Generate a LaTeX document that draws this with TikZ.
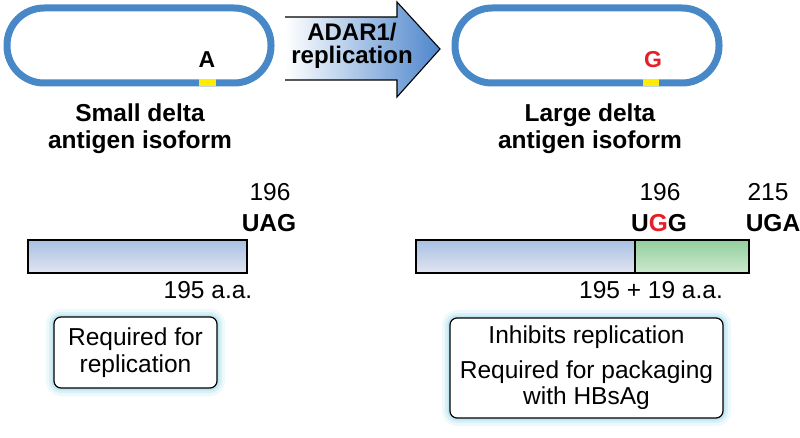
\documentclass[tikz,border=0pt]{standalone}
\usepackage{fontspec}
\setmainfont{Liberation Sans}
\usetikzlibrary{positioning}
\definecolor{ringblue}{RGB}{72,136,199}
\definecolor{arrowblue}{RGB}{78,134,204}
\definecolor{markyellow}{RGB}{255,236,0}
\definecolor{editred}{RGB}{230,30,40}
\definecolor{bartop}{RGB}{166,192,226}
\definecolor{barbottom}{RGB}{226,229,241}
\definecolor{greentop}{RGB}{146,206,158}
\definecolor{greenbottom}{RGB}{206,233,206}
\definecolor{glowcyan}{RGB}{150,215,230}
\tikzset{
	txt/.style={inner sep=0pt, font=\fontsize{24.5}{27}\selectfont},
	boldtxt/.style={txt, font=\fontsize{24.5}{27}\selectfont\bfseries},
	glowbox/.style={draw, line width=1.2, rounded corners=7, fill=white, align=center,
		preaction={draw=glowcyan, line width=16, opacity=0.15},
		preaction={draw=glowcyan, line width=10, opacity=0.25},
		preaction={draw=glowcyan, line width=5, opacity=0.4}},
}
\begin{document}
\begin{tikzpicture}[x=1pt,y=-1pt]
		\useasboundingbox (0,0) rectangle (800,438);
		\draw [ringblue, line width=7, rounded corners=37] (7,8) rectangle (271,83);
		\draw [markyellow, line width=7] (199,83)--(216,83);
		\draw [ringblue, line width=7, rounded corners=37] (455,8) rectangle (719,83);
		\draw [markyellow, line width=7] (643,83)--(659,83);
		\shade [left color=white, middle color=arrowblue!30, right color=arrowblue, shading angle=90] (285,17)--(397,17)--(397,2)--(440,49)--(397,97)--(397,80)--(285,80)--cycle;
		\draw [line width=1.1, line join=miter] (285,17)--(397,17)--(397,2)--(440,49)--(397,97)--(397,80)--(285,80);
		\node [boldtxt, align=center, font=\fontsize{24}{23}\selectfont\bfseries] (adar) at (352,46) {ADAR1/\\replication};
		\node [boldtxt, font=\fontsize{23}{27}\selectfont\bfseries] (edita) at (207,60) {A};
		\node [boldtxt, font=\fontsize{23}{27}\selectfont\bfseries, text=editred] (editg) at (653,60) {G};
		\node [boldtxt, align=center] (small) at (140,129) {Small delta\\antigen isoform};
		\node [boldtxt, align=center] (large) at (590,129) {Large delta\\antigen isoform};
		\shade [top color=bartop, bottom color=barbottom] (28,240) rectangle (247,273);
		\draw [line width=1.1] (28,240) rectangle (247,273);
		\shade [top color=bartop, bottom color=barbottom] (416,240) rectangle (635,273);
		\shade [top color=greentop, bottom color=greenbottom] (635,240) rectangle (749,273);
		\draw [line width=1.1] (416,240) rectangle (749,273) (635,240)--(635,273);
		\node [txt] (posa) at (270,192) {196};
		\node [boldtxt] (uag) at (269,223) {UAG};
		\node [txt] (posb) at (660,192) {196};
		\node [boldtxt] (ugg) at (659,223) {U\textcolor{editred}{G}G};
		\node [txt] (posc) at (768,192) {215};
		\node [boldtxt] (uga) at (773,223) {UGA};
		\node [txt] (lensmall) at (208,290) {195 a.a.};
		\node [txt] (lenlarge) at (651,290) {195 + 19 a.a.};
		\node [glowbox, txt, minimum width=163, minimum height=71] (rolesmall) at (135.5,352.5) {Required for\\replication};
		\node [glowbox, txt, minimum width=273, minimum height=100] (rolelarge) at (586.5,368) {Inhibits replication\\[8pt]Required for packaging\\[-1pt]with HBsAg};
	\end{tikzpicture}
\end{document}
